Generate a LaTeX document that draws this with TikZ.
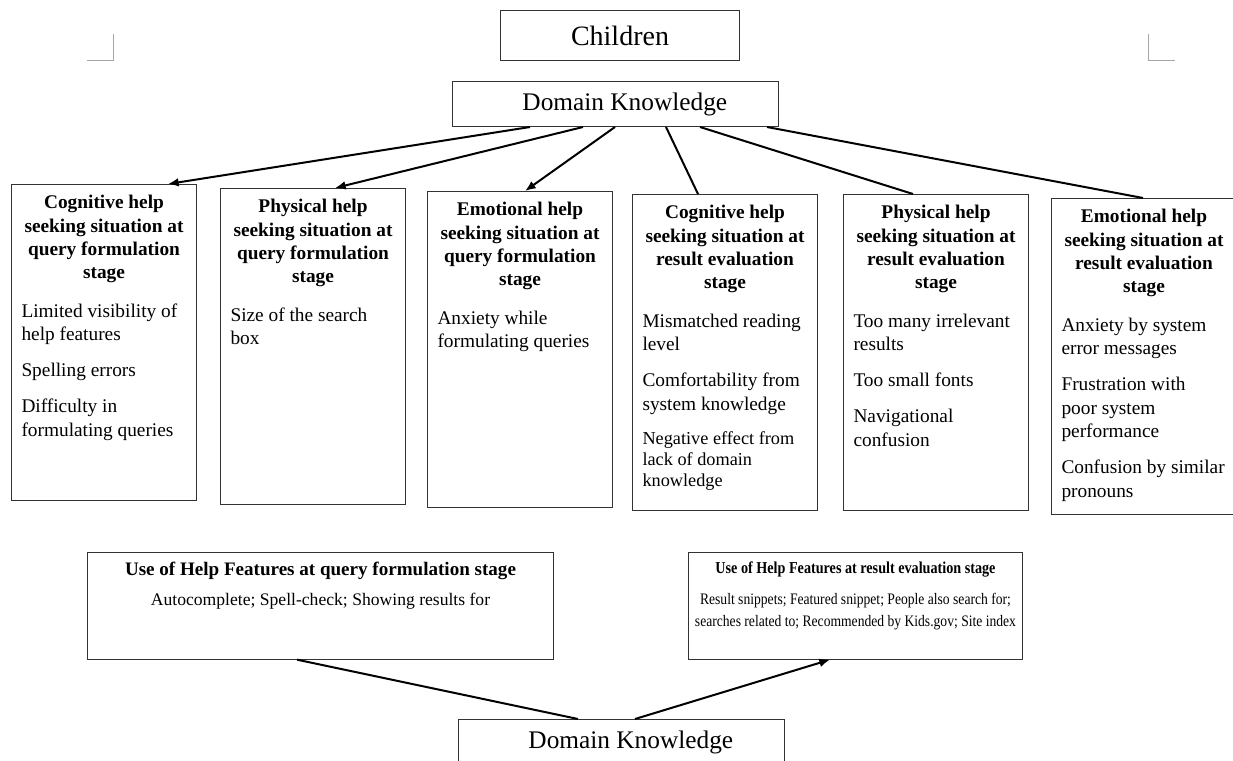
\documentclass[tikz,border=0pt]{standalone}
\usepackage{fontspec}
\setmainfont{Liberation Serif}
\newfontfamily\narrowserif[FakeStretch=0.85]{Liberation Serif}
\usetikzlibrary{arrows.meta,calc}

% text cell of a situation box: bold title, then the items
\newcommand{\sitcell}[2]{\parbox[t][221pt][t]{123.75pt}{{\centering\bfseries #1\par}\vspace{11pt}\raggedright #2}}
\newcommand{\itemgap}{\par\vspace{9.5pt}}
% text cell of a help feature box
\newcommand{\usecell}[3]{\parbox[t][66pt][t]{#1}{\centering{\bfseries #2\par}\vspace{6.5pt}#3\par}}

\begin{document}
\begin{tikzpicture}[x=0.75pt,y=-0.75pt,
  box/.style={draw=black!80, line width=0.75pt, rectangle, inner sep=0pt},
  topbox/.style={box, anchor=north west, minimum width=244.5pt, minimum height=33.75pt, font=\fontsize{19}{22}\selectfont},
  sitbox/.style={box, anchor=north west, inner xsep=7.5pt, inner ysep=8pt, font=\fontsize{14.5}{17.6}\selectfont},
  usebox/.style={box, anchor=north west, inner xsep=7.5pt, inner ysep=7pt},
  link/.style={line width=1.5pt},
  arr/.style={link, -{Latex[length=8pt,width=6.5pt]}},
  cropmark/.style={draw=black!35, line width=0.75pt}]
\useasboundingbox (0,0) rectangle (1233,761);
\clip (0,0) rectangle (1233,761);

% page corners
\draw[cropmark] (113,34) -- (113,60) -- (87,60);
\draw[cropmark] (1148,34) -- (1148,60) -- (1175,60);

% top
\node[box, anchor=north west, minimum width=179.25pt, minimum height=37.5pt, font=\fontsize{21}{24}\selectfont] (children) at (500,10) {Children};
\node[topbox] (dktop) at (452,81) {\hspace*{14pt}Domain Knowledge};

% help seeking situations
\node[sitbox] (cogq) at (11,184) {\sitcell{Cognitive help\\seeking situation at\\query formulation\\stage}{Limited visibility of\\help features\itemgap Spelling errors\itemgap Difficulty in\\formulating queries}};
\node[sitbox] (phyq) at (220,188) {\sitcell{Physical help\\seeking situation at\\query formulation\\stage}{Size of the search\\box}};
\node[sitbox] (emoq) at (427,191) {\sitcell{Emotional help\\seeking situation at\\query formulation\\stage}{Anxiety while\\formulating queries}};
\node[sitbox] (cogr) at (632,194) {\sitcell{Cognitive help\\seeking situation at\\result evaluation\\stage}{Mismatched reading\\level\itemgap Comfortability from\\system knowledge\itemgap {\fontsize{13.7}{16}\selectfont Negative effect from\\lack of domain\\knowledge\par}}};
\node[sitbox] (phyr) at (843,194) {\sitcell{Physical help\\seeking situation at\\result evaluation\\stage}{Too many irrelevant\\results\itemgap Too small fonts\itemgap Navigational\\confusion}};
\node[sitbox] (emor) at (1051,198) {\sitcell{Emotional help\\seeking situation at\\result evaluation\\stage}{Anxiety by system\\error messages\itemgap Frustration with\\poor system\\performance\itemgap Confusion by similar\\pronouns}};

\draw[arr] ($(dktop.south west)+(78,0)$) -- ($(cogq.north west)+(157,0)$);
\draw[arr] ($(dktop.south west)+(131,0)$) -- ($(phyq.north west)+(115,0)$);
\draw[arr] ($(dktop.south west)+(163,0)$) -- ($(emoq.north west)+(98,0)$);
\draw[link] ($(dktop.south west)+(214,0)$) -- ($(cogr.north west)+(66,0)$);
\draw[link] ($(dktop.south west)+(248,0)$) -- ($(phyr.north west)+(70,0)$);
\draw[link] ($(dktop.south west)+(315,0)$) -- ($(emor.north west)+(92,0)$);

% help features
\node[usebox, font=\fontsize{14.3}{17}\selectfont] (useq) at (87,552) {\usecell{334.5pt}{Use of Help Features at query formulation stage}{\fontsize{13.2}{16.5}\selectfont Autocomplete; Spell-check; Showing results for}};
\node[usebox, inner xsep=2.75pt, font=\narrowserif\fontsize{12.5}{15}\selectfont] (user) at (688,552) {\usecell{245pt}{Use of Help Features at result evaluation stage}{\fontsize{12}{16.5}\selectfont Result snippets; Featured snippet; People also search for;\\searches related to; Recommended by Kids.gov; Site index}};

\node[topbox] (dkbot) at (458,719) {\hspace*{14pt}Domain Knowledge};

\draw[link] ($(dkbot.north west)+(120,0)$) -- ($(useq.south west)+(210,0)$);
\draw[arr] ($(dkbot.north west)+(177,0)$) -- ($(user.south west)+(142,0)$);
\end{tikzpicture}
\end{document}
